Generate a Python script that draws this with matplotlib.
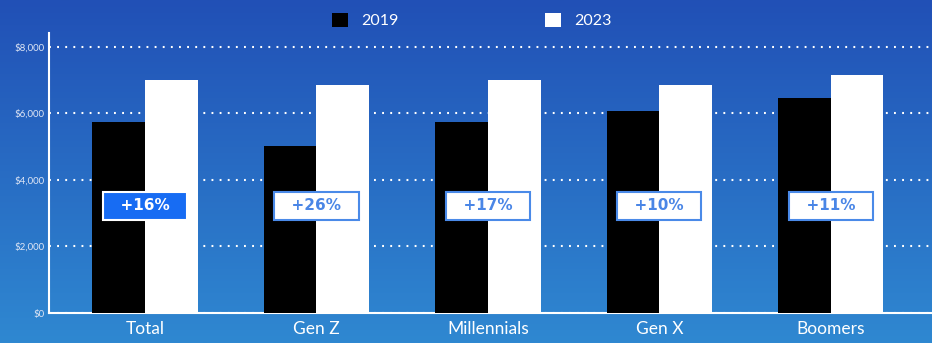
import matplotlib.pyplot as plt
import numpy as np
from matplotlib.colors import LinearSegmentedColormap

# data
groups = ["Total", "Gen Z", "Millennials", "Gen X", "Boomers"]
spend_2019 = [5750, 5020, 5750, 6080, 6470]
spend_2023 = [7010, 6860, 7010, 6860, 7160]
changes = ["+16%", "+26%", "+17%", "+10%", "+11%"]
yticks = [0, 2000, 4000, 6000, 8000]

plt.rcParams['font.family'] = ['Lato', 'DejaVu Sans']

fig = plt.figure(figsize=(9.32, 3.43), dpi=100)

# gradient background
bg = fig.add_axes([0, 0, 1, 1], zorder=-10)
cmap = LinearSegmentedColormap.from_list("bg", ["#2150b6", "#2f88d1"])
bg.imshow(np.linspace(0, 1, 256).reshape(-1, 1), aspect="auto", cmap=cmap,
          extent=[0, 1, 0, 1])
bg.axis("off")

ax = fig.add_axes([49/932, 30/343, 883/932, 280/343])
ax.patch.set_alpha(0)

x = np.arange(len(groups))
w = 0.307
ax.bar(x - w/2, spend_2019, w, color="black", label="2019", zorder=3)
ax.bar(x + w/2, spend_2023, w, color="white", label="2023", zorder=3)

for i, txt in enumerate(changes):
    if i == 0:
        box = dict(boxstyle="square,pad=0.45", fc="#176cf3", ec="white", lw=1.5)
        col = "white"
    else:
        box = dict(boxstyle="square,pad=0.45", fc="white", ec="#4a8ae8", lw=1.5)
        col = "#4a86e6"
    ax.text(x[i], 3220, "  " + txt + "  ", ha="center", va="center", fontsize=11,
            fontweight="bold", color=col, bbox=box, zorder=5,
            family=["DejaVu Sans"])

ax.set_xlim(-0.56, 4.59)
ax.set_ylim(0, 8420)
ax.set_yticks(yticks)
ax.set_yticklabels(["$" + f"{v:,}" for v in yticks], fontsize=7, color="#dfe6f5")
ax.set_xticks(x)
ax.set_xticklabels(groups, fontsize=12.5, color="white")
ax.tick_params(axis="both", length=0, pad=3)
ax.tick_params(axis="x", pad=6)

ax.yaxis.grid(True, color="white", linestyle=(0, (0.9, 3.0)), linewidth=1.5, zorder=1)
ax.set_axisbelow(True)
for s in ["top", "right"]:
    ax.spines[s].set_visible(False)
for s in ["left", "bottom"]:
    ax.spines[s].set_color("white")
    ax.spines[s].set_linewidth(1.5)

leg = fig.legend(loc="upper center", bbox_to_anchor=(0.506, 1.005), ncol=2, frameon=False,
                 fontsize=11.5, handlelength=1.0, handleheight=1.0, columnspacing=9.2,
                 handletextpad=0.8)
for t in leg.get_texts():
    t.set_color("white")

fig.savefig("out.png", dpi=100)
